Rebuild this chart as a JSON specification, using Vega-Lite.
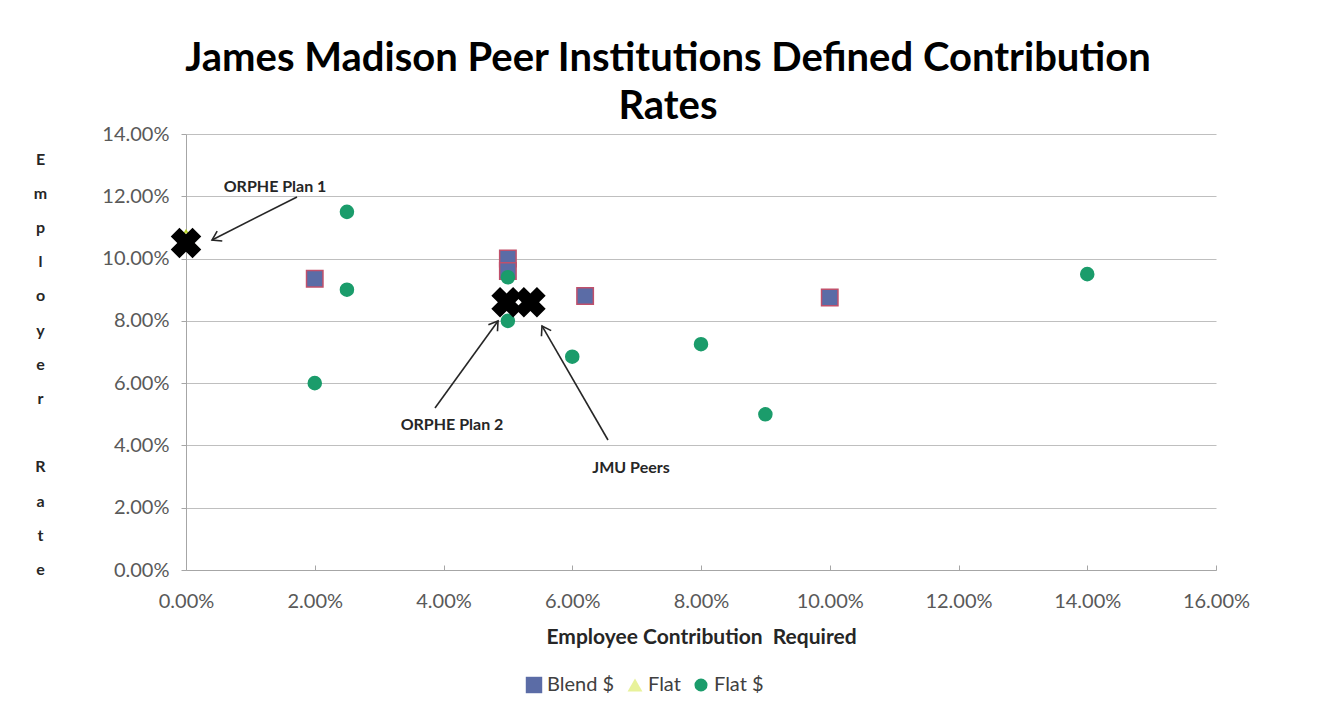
{
  "$schema": "https://vega.github.io/schema/vega-lite/v6.json",
  "width": 1030,
  "height": 436,
  "autosize": "none",
  "padding": {"left": 186, "top": 134, "right": 109, "bottom": 148},
  "background": "white",
  "title": {
    "text": ["James Madison Peer Institutions Defined Contribution", "Rates"],
    "font": "Lato",
    "fontSize": 40,
    "fontWeight": "bold",
    "color": "#000000",
    "lineHeight": 48,
    "anchor": "middle",
    "dx": -33,
    "offset": -3
  },
  "config": {
    "view": {"stroke": null},
    "font": "Lato",
    "axis": {
      "labelFont": "Lato",
      "labelFontSize": 20,
      "labelColor": "#595959",
      "titleFont": "Lato",
      "titleColor": "#262626",
      "domainColor": "#a6a6a6",
      "tickColor": "#a6a6a6",
      "gridColor": "#bfbfbf",
      "gridWidth": 1.2
    }
  },
  "datasets": {
    "pts": [
      {"series": "Blend $", "emp": 0.02, "er": 0.0935},
      {"series": "Blend $", "emp": 0.05, "er": 0.100},
      {"series": "Blend $", "emp": 0.05, "er": 0.096},
      {"series": "Blend $", "emp": 0.062, "er": 0.088},
      {"series": "Blend $", "emp": 0.10, "er": 0.0875},
      {"series": "Flat", "emp": 0.0, "er": 0.107},
      {"series": "Flat $", "emp": 0.025, "er": 0.115},
      {"series": "Flat $", "emp": 0.025, "er": 0.090},
      {"series": "Flat $", "emp": 0.02, "er": 0.060},
      {"series": "Flat $", "emp": 0.05, "er": 0.094},
      {"series": "Flat $", "emp": 0.05, "er": 0.086},
      {"series": "Flat $", "emp": 0.05, "er": 0.080},
      {"series": "Flat $", "emp": 0.06, "er": 0.0685},
      {"series": "Flat $", "emp": 0.08, "er": 0.0725},
      {"series": "Flat $", "emp": 0.09, "er": 0.050},
      {"series": "Flat $", "emp": 0.14, "er": 0.095}
    ],
    "plans": [
      {"plan": "ORPHE Plan 1", "emp": 0.0, "er": 0.105},
      {"plan": "ORPHE Plan 2", "emp": 0.0498, "er": 0.086},
      {"plan": "JMU Peers", "emp": 0.0535, "er": 0.086}
    ],
    "arrows": [
      {"label": "ORPHE Plan 1", "x": 0.01724, "y": 0.11978, "x2": 0.00404, "y2": 0.10597, "tx": 0.01383, "ty": 0.12299},
      {"label": "ORPHE Plan 2", "x": 0.03868, "y": 0.05202, "x2": 0.04847, "y2": 0.07996, "tx": 0.04132, "ty": 0.04656},
      {"label": "JMU Peers", "x": 0.06555, "y": 0.04175, "x2": 0.05530, "y2": 0.07836, "tx": 0.06913, "ty": 0.03276}
    ]
  },
  "layer": [
    {
      "data": {"name": "pts"},
      "mark": {"type": "point", "filled": true, "opacity": 1, "strokeWidth": 1.5},
      "encoding": {
        "x": {
          "field": "emp", "type": "quantitative",
          "scale": {"domain": [0, 0.16], "nice": false, "zero": true},
          "axis": {
            "values": [0, 0.02, 0.04, 0.06, 0.08, 0.1, 0.12, 0.14, 0.16],
            "format": ".2%",
            "grid": false,
            "labelFlush": false,
            "tickSize": -5,
            "ticks": true,
            "labelPadding": 26,
            "title": "Employee Contribution\u00a0\u00a0Required",
            "titleFontSize": 21,
            "titleFontWeight": "bold",
            "titlePadding": 15
          }
        },
        "y": {
          "field": "er", "type": "quantitative",
          "scale": {"domain": [0, 0.14], "nice": false, "zero": true},
          "axis": {
            "values": [0, 0.02, 0.04, 0.06, 0.08, 0.1, 0.12, 0.14],
            "format": ".2%",
            "grid": true,
            "ticks": true,
            "tickSize": 5,
            "labelPadding": 12,
            "labelFlush": false,
            "title": ["E", "m", "p", "l", "o", "y", "e", "r", "\u200b", "R", "a", "t", "e"],
            "titleFontSize": 16,
            "titleFontWeight": "bold",
            "titleAngle": 0,
            "titleLineHeight": 34.2,
            "titleAlign": "center",
            "titleBaseline": "top",
            "titleX": -146,
            "titleY": 17
          }
        },
        "shape": {
          "field": "series", "type": "nominal",
          "scale": {"domain": ["Blend $", "Flat", "Flat $"], "range": ["square", "triangle-up", "circle"]},
          "legend": {
            "title": null,
            "orient": "none",
            "direction": "horizontal",
            "legendX": 338,
            "legendY": 541,
            "labelFont": "Lato",
            "labelFontSize": 20,
            "labelColor": "#404040",
            "symbolSize": 190,
            "symbolStrokeWidth": 0,
            "columnPadding": 10,
            "labelOffset": 3
          }
        },
        "color": {
          "field": "series", "type": "nominal",
          "scale": {"domain": ["Blend $", "Flat", "Flat $"], "range": ["#5b6ca6", "#e8f29a", "#1b9c6b"]},
          "legend": {
            "title": null,
            "orient": "none",
            "direction": "horizontal",
            "legendX": 338,
            "legendY": 541,
            "labelFont": "Lato",
            "labelFontSize": 20,
            "labelColor": "#404040",
            "symbolSize": 190,
            "symbolStrokeWidth": 0,
            "columnPadding": 10,
            "labelOffset": 3
          }
        },
        "stroke": {
          "field": "series", "type": "nominal",
          "scale": {"domain": ["Blend $", "Flat", "Flat $"], "range": ["#c0506b", "#b5d21f", "#1b9c6b"]},
          "legend": null
        },
        "size": {
          "field": "series", "type": "nominal",
          "scale": {"domain": ["Blend $", "Flat", "Flat $"], "range": [270, 170, 310]},
          "legend": null
        }
      }
    },
    {
      "data": {"name": "plans"},
      "mark": {"type": "point", "shape": "cross", "angle": 45, "filled": true, "color": "#000000", "size": 950, "opacity": 1},
      "encoding": {
        "x": {"field": "emp", "type": "quantitative"},
        "y": {"field": "er", "type": "quantitative"}
      }
    },
    {
      "data": {"name": "arrows"},
      "mark": {"type": "rule", "color": "#262626", "strokeWidth": 1.6},
      "encoding": {
        "x": {"field": "x", "type": "quantitative"},
        "y": {"field": "y", "type": "quantitative"},
        "x2": {"field": "x2"},
        "y2": {"field": "y2"}
      }
    },
    {
      "data": {"name": "arrows"},
      "transform": [{"filter": "datum.label === 'ORPHE Plan 1'"}],
      "mark": {"type": "point", "shape": "M-1,-0.65L0,0L-1,0.65", "filled": false, "stroke": "#262626", "strokeWidth": 1.6, "size": 300, "angle": 153, "opacity": 1},
      "encoding": {
        "x": {"field": "x2", "type": "quantitative"},
        "y": {"field": "y2", "type": "quantitative"}
      }
    },
    {
      "data": {"name": "arrows"},
      "transform": [{"filter": "datum.label === 'ORPHE Plan 2'"}],
      "mark": {"type": "point", "shape": "M-1,-0.65L0,0L-1,0.65", "filled": false, "stroke": "#262626", "strokeWidth": 1.6, "size": 300, "angle": 306, "opacity": 1},
      "encoding": {
        "x": {"field": "x2", "type": "quantitative"},
        "y": {"field": "y2", "type": "quantitative"}
      }
    },
    {
      "data": {"name": "arrows"},
      "transform": [{"filter": "datum.label === 'JMU Peers'"}],
      "mark": {"type": "point", "shape": "M-1,-0.65L0,0L-1,0.65", "filled": false, "stroke": "#262626", "strokeWidth": 1.6, "size": 300, "angle": 240, "opacity": 1},
      "encoding": {
        "x": {"field": "x2", "type": "quantitative"},
        "y": {"field": "y2", "type": "quantitative"}
      }
    },
    {
      "data": {"name": "arrows"},
      "mark": {"type": "text", "font": "Lato", "fontSize": 16, "fontWeight": "bold", "color": "#262626", "align": "center", "baseline": "middle"},
      "encoding": {
        "x": {"field": "tx", "type": "quantitative"},
        "y": {"field": "ty", "type": "quantitative"},
        "text": {"field": "label"}
      }
    }
  ]
}
